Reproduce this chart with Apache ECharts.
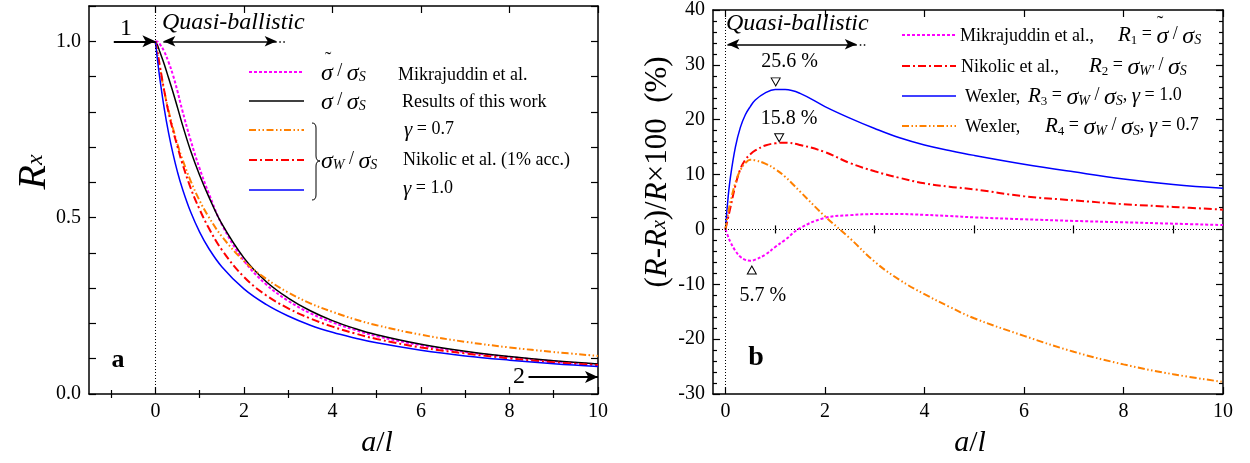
<!DOCTYPE html>
<html><head><meta charset="utf-8">
<script src="https://cdn.jsdelivr.net/npm/echarts@6/dist/echarts.min.js"></script>
<style>html,body{margin:0;padding:0;background:#fff}#c{width:1250px;height:463px}</style>
</head><body><div id="c"></div>
<script>
// ---------- data ----------
const xLeft = [0,0.05,0.1,0.2,0.3,0.4,0.5,0.6,0.8,1.0,1.2,1.5,2,2.5,3,3.5,4,4.5,5,6,7,8,9,10];
const rMikrajuddin = [1,0.999,0.992,0.971,0.940,0.903,0.858,0.808,0.718,0.639,0.571,0.481,0.378,0.311,0.264,0.229,0.203,0.182,0.164,0.138,0.119,0.105,0.093,0.084];
const rThisWork    = [1,0.988,0.970,0.935,0.895,0.855,0.812,0.768,0.688,0.620,0.561,0.483,0.386,0.319,0.272,0.236,0.208,0.186,0.168,0.141,0.121,0.106,0.094,0.085];
const rWexler07    = [1,0.960,0.924,0.858,0.802,0.752,0.708,0.669,0.603,0.548,0.503,0.447,0.377,0.327,0.288,0.257,0.233,0.212,0.195,0.168,0.148,0.132,0.119,0.108];
const rNikolic     = [1,0.968,0.931,0.860,0.797,0.746,0.701,0.657,0.583,0.523,0.472,0.409,0.332,0.280,0.243,0.214,0.191,0.172,0.156,0.132,0.115,0.101,0.090,0.082];
const rWexler10    = [1,0.944,0.895,0.809,0.739,0.680,0.629,0.586,0.515,0.459,0.414,0.361,0.298,0.254,0.221,0.195,0.175,0.159,0.145,0.124,0.108,0.096,0.086,0.078];

const xRight = [0,0.05,0.1,0.2,0.3,0.4,0.5,0.6,0.8,1.0,1.2,1.5,2,2.5,3,3.5,4,4.5,5,6,7,8,9,10];
const dMikrajuddin = [0,-1.2,-2.3,-3.9,-5.0,-5.55,-5.7,-5.5,-4.6,-3.2,-1.9,0.25,2.1,2.6,2.8,2.8,2.65,2.45,2.2,1.85,1.55,1.3,1.05,0.8];
const dNikolic     = [0,2,4,8,11,12.7,13.7,14.4,15.3,15.7,15.8,15.4,14.1,12.1,10.6,9.4,8.4,7.8,7.3,6.05,5.3,4.6,4.1,3.6];
const dWexler10    = [0,5.5,9.5,15,18.6,20.9,22.4,23.6,24.9,25.5,25.5,24.8,22.4,20.3,18.4,16.7,15.4,14.4,13.5,11.9,10.5,9.2,8.2,7.5];
const dWexler07    = [0,2.8,5,8.5,10.8,12.1,12.7,12.6,12.0,11.0,9.6,6.9,2.4,-1.6,-5.9,-9.2,-11.8,-14.1,-16.2,-19.4,-22.3,-24.6,-26.4,-27.8];

const leftXMajor = [0,2,4,6,8,10];
const leftXMinor = [-1,1,3,5,7,9];
const leftYLabels = [0,0.5,1.0];
const rightXMajor = [0,2,4,6,8,10];
const rightXMinor = [1,3,5,7,9];

const peakBlue = [1.01, 26.9];   const peakBlueText = '25.6 %';
const peakRed  = [1.08, 16.7];   const peakRedText  = '15.8 %';
const dipMag   = [0.53, -7.4];   const dipMagText   = '5.7 %';

// ---------- styles ----------
const serif = 'Liberation Serif';
const ST = {
  mik:  {color:'#ff00ff', width:2,   type:[3,2]},
  work: {color:'#000000', width:1.5, type:'solid'},
  w07:  {color:'#ff8000', width:2,   type:[7,2.5,1.5,2.5,1.5,2.5]},
  nik:  {color:'#ff0000', width:2,   type:[8,3,2,3]},
  w10:  {color:'#0000ff', width:1.5, type:'solid'}
};
const pairs = (xs, ys) => xs.map((x, i) => [x, ys[i]]);
const axisLineStyle = {color:'#000', width:1.5};
const tickStyle = {color:'#000', width:1.2};
const labelStyle = {color:'#000', fontFamily:serif, fontSize:20};

function xAxes(gridIndex, min, max, major, minor){
  const base = {type:'value', gridIndex, min, max, splitLine:{show:false},
    axisLine:{show:false}, axisLabel:{show:false}, axisTick:{show:false}};
  return [
    Object.assign({}, base, {position:'bottom',
      axisLine:{show:true, onZero:false, lineStyle:axisLineStyle},
      axisTick:{show:true, inside:true, length:7, customValues:major, lineStyle:tickStyle},
      axisLabel:Object.assign({show:true, customValues:major, margin:8}, labelStyle)}),
    Object.assign({}, base, {position:'bottom',
      axisTick:{show:true, inside:true, length:4, customValues:minor, lineStyle:tickStyle}}),
    Object.assign({}, base, {position:'top',
      axisLine:{show:true, onZero:false, lineStyle:axisLineStyle},
      axisTick:{show:true, inside:true, length:7, customValues:major, lineStyle:tickStyle}}),
    Object.assign({}, base, {position:'top',
      axisTick:{show:true, inside:true, length:4, customValues:minor, lineStyle:tickStyle}})
  ];
}

function line(name, xs, ys, st, xi, yi, extra){
  return Object.assign({type:'line', name, data:pairs(xs, ys), xAxisIndex:xi, yAxisIndex:yi,
    showSymbol:false, smooth:0.4, silent:true, z:3,
    lineStyle:{color:st.color, width:st.width, type:st.type}}, extra || {});
}

const dotted = {color:'#000', width:1, type:[1,2]};
const leftMarks = {
  silent:true, symbol:['none','none'], label:{show:false}, animation:false,
  data:[
    {xAxis:0, lineStyle:dotted},
    [{coord:[-0.94,1.0], symbol:'none', lineStyle:{color:'#000', width:2, type:'solid'}},
     {coord:[0,1.0], symbol:'arrow', symbolSize:[9,13]}],
    [{coord:[0.18,1.0], symbol:'arrow', symbolSize:[8,12], lineStyle:{color:'#000', width:1.5, type:'solid'}},
     {coord:[2.74,1.0], symbol:'arrow', symbolSize:[8,12]}],
    [{coord:[2.8,1.0], lineStyle:{color:'#000', width:1.5, type:[1.5,2.5]}}, {coord:[2.97,1.0]}],
    [{coord:[8.43,0.048], symbol:'none', lineStyle:{color:'#000', width:2, type:'solid'}},
     {coord:[10,0.048], symbol:'arrow', symbolSize:[9,13]}]
  ]
};
const rightMarks = {
  silent:true, symbol:['none','none'], label:{show:false}, animation:false,
  data:[
    {xAxis:0, lineStyle:dotted},
    {yAxis:0, lineStyle:dotted},
    [{coord:[0.04,33.75], symbol:'arrow', symbolSize:[8,12], lineStyle:{color:'#000', width:1.5, type:'solid'}},
     {coord:[2.64,33.75], symbol:'arrow', symbolSize:[8,12]}],
    [{coord:[2.7,33.75], lineStyle:{color:'#000', width:1.5, type:[1.5,2.5]}}, {coord:[2.84,33.75]}]
  ]
};
function peakMark(coord, text, down, offset){
  return {silent:true, animation:false, symbol:'triangle', symbolSize:[9,8], symbolRotate: down ? 180 : 0,
    itemStyle:{color:'#fff', borderColor:'#000', borderWidth:1},
    label:{show:true, position:'inside', offset, formatter:text, color:'#000', fontFamily:serif, fontSize:20},
    data:[{coord}]};
}

const rich = {
  n:{fontFamily:serif, fontSize:18, lineHeight:22, verticalAlign:'top', fill:'#000'},
  m:{fontFamily:serif, fontSize:24, fontStyle:'italic', lineHeight:22, verticalAlign:'top'},
  r:{fontFamily:serif, fontSize:21, fontStyle:'italic', lineHeight:22, verticalAlign:'top'},
  s:{fontFamily:serif, fontSize:14, fontStyle:'italic', lineHeight:14, verticalAlign:'bottom', padding:[12,0,0,0]},
  sn:{fontFamily:serif, fontSize:13, lineHeight:14, verticalAlign:'bottom', padding:[12,0,0,0]}
};
function rt(x, y, text){
  return {type:'text', x, y, z:10, silent:true,
    style:{text, rich, fill:'#000', align:'left', verticalAlign:'middle', fontFamily:serif, fontSize:18}};
}
function plain(x, y, text, font, align){
  return {type:'text', x, y, z:10, silent:true,
    style:{text, fill:'#000', font, align:align || 'left', verticalAlign:'middle'}};
}
function sample(x1, x2, y, st){
  return {type:'line', z:10, silent:true, shape:{x1, y1:y, x2, y2:y},
    style:{stroke:st.color, lineWidth:st.width, lineDash: st.type === 'solid' ? null : st.type}};
}
function seg(x1, y1, x2, y2){
  return {type:'line', z:10, silent:true, shape:{x1, y1, x2, y2}, style:{stroke:'#000', lineWidth:1}};
}
function curve(x1, y1, cx, cy, x2, y2){
  return {type:'bezierCurve', z:10, silent:true, shape:{x1, y1, cpx1:cx, cpy1:cy, x2, y2}, style:{stroke:'#000', lineWidth:1, fill:null}};
}

const graphics = [
  // left legend
  sample(249, 304, 72, ST.mik),  rt(321, 73, '{m|σ}{n| / }{m|σ}{s|S}'), plain(328, 61, '˜', '20px ' + serif, 'center'),
  plain(398, 75, 'Mikrajuddin et al.', '18px ' + serif),
  sample(249, 304, 101, ST.work), rt(321, 102, '{m|σ}{n| / }{m|σ}{s|S}'), plain(402, 102, 'Results of this work', '18px ' + serif),
  sample(249, 304, 130, ST.w07), rt(404, 131, '{r|γ}{n| = 0.7}'),
  sample(249, 304, 160, ST.nik), rt(321, 161, '{m|σ}{s|W}{n| / }{m|σ}{s|S}'), plain(403, 160, 'Nikolic et al. (1% acc.)', '18px ' + serif),
  sample(249, 304, 190, ST.w10), rt(403, 190, '{r|γ}{n| = 1.0}'),
  curve(312,123, 316,123, 316,128), seg(316,128,316,156), curve(316,156, 316,161, 320,161),
  curve(320,161, 316,161, 316,166), seg(316,166,316,195), curve(316,195, 316,200, 312,200),
  // right legend
  sample(902, 956, 35, ST.mik),  plain(960, 36, 'Mikrajuddin et al.,', '18px ' + serif),
  rt(1118, 36, '{r|R}{sn|1}{n| = }{m|σ}{n| / }{m|σ}{s|S}'), plain(1160, 25, '˜', '20px ' + serif, 'center'),
  sample(902, 956, 66, ST.nik),  plain(961, 67, 'Nikolic et al.,', '18px ' + serif),
  rt(1089, 67, '{r|R}{sn|2}{n| = }{m|σ}{s|W\'}{n| / }{m|σ}{s|S}'),
  sample(902, 956, 96, ST.w10),  plain(965, 97, 'Wexler,', '18px ' + serif),
  rt(1028, 97, '{r|R}{sn|3}{n| = }{m|σ}{s|W}{n| / }{m|σ}{s|S}{n|, }{r|γ}{n| = 1.0}'),
  sample(902, 956, 126, ST.w07), plain(965, 127, 'Wexler,', '18px ' + serif),
  rt(1045, 127, '{r|R}{sn|4}{n| = }{m|σ}{s|W}{n| / }{m|σ}{s|S}{n|, }{r|γ}{n| = 0.7}'),
  // annotations
  plain(162, 23, 'Quasi-ballistic', 'italic 24px ' + serif),
  plain(726, 24, 'Quasi-ballistic', 'italic 24px ' + serif),
  plain(126, 29, '1', '24px ' + serif, 'center'),
  plain(519, 377, '2', '24px ' + serif, 'center'),
  plain(118, 360, 'a', 'bold 26px ' + serif, 'center'),
  plain(756, 358, 'b', 'bold 28px ' + serif, 'center'),
  // axis titles
  {type:'text', x:377, y:443, z:10, silent:true, style:{text:'{i|a}{n|/}{i|l}', align:'center', verticalAlign:'middle',
    rich:{i:{fontFamily:serif, fontSize:30, fontStyle:'italic'}, n:{fontFamily:serif, fontSize:30}}}},
  {type:'text', x:970, y:443, z:10, silent:true, style:{text:'{i|a}{n|/}{i|l}', align:'center', verticalAlign:'middle',
    rich:{i:{fontFamily:serif, fontSize:30, fontStyle:'italic'}, n:{fontFamily:serif, fontSize:30}}}},
  {type:'text', x:31, y:172, rotation:Math.PI/2, z:10, silent:true, style:{text:'{i|R}{s|x}', align:'center', verticalAlign:'middle',
    rich:{i:{fontFamily:serif, fontSize:40, fontStyle:'italic', lineHeight:34, verticalAlign:'top'},
          s:{fontFamily:serif, fontSize:24, fontStyle:'italic', lineHeight:20, verticalAlign:'bottom', padding:[22,0,0,0]}}}},
  {type:'text', x:656, y:172, rotation:Math.PI/2, z:10, silent:true, style:{text:'{n|(}{i|R}{n|-}{i|R}{s|x}{n|)/}{i|R}{n|×100  (%)}', align:'center', verticalAlign:'middle',
    rich:{n:{fontFamily:serif, fontSize:31, lineHeight:28, verticalAlign:'top'},
          i:{fontFamily:serif, fontSize:31, fontStyle:'italic', lineHeight:28, verticalAlign:'top'},
          s:{fontFamily:serif, fontSize:20, fontStyle:'italic', lineHeight:18, verticalAlign:'bottom', padding:[16,0,0,0]}}}}
];

const chart = echarts.init(document.getElementById('c'));
chart.setOption({
  animation:false,
  backgroundColor:'#fff',
  grid:[{left:89, top:6, width:509, height:388}, {left:713, top:7, width:510, height:387}],
  xAxis:[].concat(xAxes(0, -1.5, 10, leftXMajor, leftXMinor), xAxes(1, -0.25, 10, rightXMajor, rightXMinor)),
  yAxis:[
    {type:'value', gridIndex:0, position:'left', min:0, max:1.1, interval:0.1, splitLine:{show:false},
     axisLine:{show:true, onZero:false, lineStyle:axisLineStyle},
     axisTick:{show:true, inside:true, length:7, lineStyle:tickStyle},
     axisLabel:Object.assign({show:true, customValues:leftYLabels, margin:8, formatter:v => v.toFixed(1)}, labelStyle)},
    {type:'value', gridIndex:0, position:'right', min:0, max:1.1, interval:0.1, splitLine:{show:false},
     axisLine:{show:true, onZero:false, lineStyle:axisLineStyle},
     axisTick:{show:true, inside:true, length:7, lineStyle:tickStyle}, axisLabel:{show:false}},
    {type:'value', gridIndex:1, position:'left', min:-30, max:40, interval:10, splitLine:{show:false},
     axisLine:{show:true, onZero:false, lineStyle:axisLineStyle},
     axisTick:{show:true, inside:true, length:7, lineStyle:tickStyle},
     minorTick:{show:true, splitNumber:5, length:4, lineStyle:tickStyle},
     axisLabel:Object.assign({show:true, margin:8}, labelStyle)},
    {type:'value', gridIndex:1, position:'right', min:-30, max:40, interval:10, splitLine:{show:false},
     axisLine:{show:true, onZero:false, lineStyle:axisLineStyle},
     axisTick:{show:true, inside:true, length:7, lineStyle:tickStyle},
     minorTick:{show:true, splitNumber:5, length:4, lineStyle:tickStyle}, axisLabel:{show:false}}
  ],
  series:[
    line('Mikrajuddin et al.', xLeft, rMikrajuddin, ST.mik, 0, 0),
    line('Results of this work', xLeft, rThisWork, ST.work, 0, 0, {markLine:leftMarks}),
    line('Wexler γ=0.7', xLeft, rWexler07, ST.w07, 0, 0),
    line('Nikolic et al.', xLeft, rNikolic, ST.nik, 0, 0),
    line('Wexler γ=1.0', xLeft, rWexler10, ST.w10, 0, 0),
    line('R1', xRight, dMikrajuddin, ST.mik, 4, 2, {markLine:rightMarks, markPoint:peakMark(dipMag, dipMagText, false, [11,26])}),
    line('R2', xRight, dNikolic, ST.nik, 4, 2, {markPoint:peakMark(peakRed, peakRedText, true, [10,-19])}),
    line('R3', xRight, dWexler10, ST.w10, 4, 2, {markPoint:peakMark(peakBlue, peakBlueText, true, [14,-20])}),
    line('R4', xRight, dWexler07, ST.w07, 4, 2)
  ],
  graphic:graphics
});
</script></body></html>
